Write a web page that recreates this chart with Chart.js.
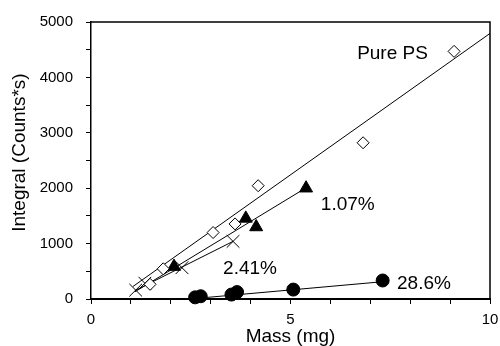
<!DOCTYPE html>
<html>
<head>
<meta charset="utf-8">
<script src="https://cdn.jsdelivr.net/npm/chart.js@4.4.1/dist/chart.umd.min.js"></script>
<style>
  html, body { margin: 0; padding: 0; background: #fff; }
  #wrap { width: 500px; height: 346px; }
</style>
</head>
<body>
<div id="wrap"><canvas id="chart" width="500" height="346"></canvas></div>
<script>
// measured points, mass (mg) vs integral (counts*s)
const pureMass = [1.48, 1.81, 3.06, 3.61, 4.19, 6.82, 9.10];
const pureIntegral = [265, 545, 1200, 1355, 2045, 2820, 4470];

const pct107Mass = [2.08, 3.88, 4.14, 5.39];
const pct107Integral = [585, 1455, 1300, 2000];

const pct241Mass = [1.12, 1.35, 2.28, 3.56];
const pct241Integral = [160, 285, 565, 1040];

const pct286Mass = [2.61, 2.75, 3.52, 3.66, 5.07, 7.31];
const pct286Integral = [30, 50, 80, 125, 170, 334];

// fitted lines (start / end)
const pureFitMass = [1.05, 10];
const pureFitIntegral = [225, 4794];
const pct107FitMass = [1.1, 5.39];
const pct107FitIntegral = [130, 2007];
const pct241FitMass = [1.1, 3.56];
const pct241FitIntegral = [150, 1040];
const pct286FitMass = [2.62, 7.31];
const pct286FitIntegral = [10, 312];

// text labels next to the series
const seriesLabels = ["Pure PS", "1.07%", "2.41%", "28.6%"];
const labelMass = [6.67, 5.76, 3.31, 7.67];
const labelIntegral = [4419, 1708, 546, 282];

const xTicksShown = [0, 5, 10];
const yTicksShown = [0, 1000, 2000, 3000, 4000, 5000];

const toPoints = (xs, ys) => xs.map((x, i) => ({ x: x, y: ys[i] }));

const FONT = "'Liberation Sans', Arial, sans-serif";

// draws the top/right edges of the box and the series labels
const framePlugin = {
  id: "frame",
  afterDatasetsDraw(chart) {
    const { ctx, chartArea, scales } = chart;
    ctx.save();
    ctx.strokeStyle = "#000";
    ctx.lineWidth = 1.5;
    ctx.beginPath();
    ctx.moveTo(chartArea.left, chartArea.top);
    ctx.lineTo(chartArea.right, chartArea.top);
    ctx.lineTo(chartArea.right, chartArea.bottom);
    ctx.stroke();

    ctx.fillStyle = "#000";
    ctx.font = "19px " + FONT;
    ctx.textAlign = "left";
    ctx.textBaseline = "middle";
    seriesLabels.forEach((txt, i) => {
      ctx.fillText(
        txt,
        scales.x.getPixelForValue(labelMass[i]),
        scales.y.getPixelForValue(labelIntegral[i])
      );
    });
    ctx.restore();
  },
};

const lineStyle = {
  showLine: true,
  borderColor: "#000",
  borderWidth: 1,
  pointRadius: 0,
  order: 2,
};

new Chart(document.getElementById("chart"), {
  type: "scatter",
  data: {
    datasets: [
      { ...lineStyle, data: toPoints(pureFitMass, pureFitIntegral) },
      { ...lineStyle, data: toPoints(pct107FitMass, pct107FitIntegral) },
      { ...lineStyle, data: toPoints(pct241FitMass, pct241FitIntegral) },
      { ...lineStyle, data: toPoints(pct286FitMass, pct286FitIntegral) },
      {
        label: "Pure PS",
        data: toPoints(pureMass, pureIntegral),
        pointStyle: "rectRot",
        pointRadius: 6,
        backgroundColor: "#fff",
        borderColor: "#000",
        borderWidth: 1,
        order: 1,
      },
      {
        label: "1.07%",
        data: toPoints(pct107Mass, pct107Integral),
        pointStyle: "triangle",
        pointRadius: 7.5,
        backgroundColor: "#000",
        borderColor: "#000",
        borderWidth: 1,
        order: 1,
      },
      {
        label: "2.41%",
        data: toPoints(pct241Mass, pct241Integral),
        pointStyle: "crossRot",
        pointRadius: 9,
        borderColor: "#000",
        borderWidth: 1,
        order: 1,
      },
      {
        label: "28.6%",
        data: toPoints(pct286Mass, pct286Integral),
        pointStyle: "circle",
        pointRadius: 6.5,
        backgroundColor: "#000",
        borderColor: "#000",
        borderWidth: 1,
        order: 1,
      },
    ],
  },
  options: {
    responsive: false,
    animation: false,
    clip: false,
    layout: { padding: { top: 15, right: 0, left: 0, bottom: 0 } },
    plugins: {
      legend: { display: false },
      tooltip: { enabled: false },
    },
    scales: {
      x: {
        type: "linear",
        min: 0,
        max: 10,
        afterFit: (scale) => {
          scale.height = 47;
          scale.paddingRight = 10; // room for the "10" label only
        },
        border: { color: "#000", width: 2 },
        grid: { drawOnChartArea: false, color: "#000", tickLength: 5, lineWidth: 1 },
        ticks: {
          stepSize: 1,
          autoSkip: false,
          maxRotation: 0,
          padding: 7,
          color: "#000",
          font: { family: FONT, size: 15 },
          callback: (v) => (xTicksShown.includes(v) ? String(v) : ""),
        },
        title: {
          display: true,
          text: "Mass (mg)",
          color: "#000",
          font: { family: FONT, size: 19, lineHeight: 1 },
          padding: { top: 0, bottom: 0 },
        },
      },
      y: {
        type: "linear",
        min: 0,
        max: 5000,
        afterFit: (scale) => { scale.width = 91; },
        border: { color: "#000", width: 1.5 },
        grid: { drawOnChartArea: false, color: "#000", tickLength: 5, lineWidth: 1 },
        ticks: {
          stepSize: 500,
          autoSkip: false,
          padding: 13,
          color: "#000",
          font: { family: FONT, size: 15 },
          callback: (v) => (yTicksShown.includes(v) ? String(v) : ""),
        },
        title: {
          display: true,
          text: "   Integral (Counts*s)",
          color: "#000",
          font: { family: FONT, size: 19, lineHeight: 1 },
          padding: { top: 10.5, bottom: 0 },
        },
      },
    },
  },
  plugins: [framePlugin],
});
</script>
</body>
</html>
